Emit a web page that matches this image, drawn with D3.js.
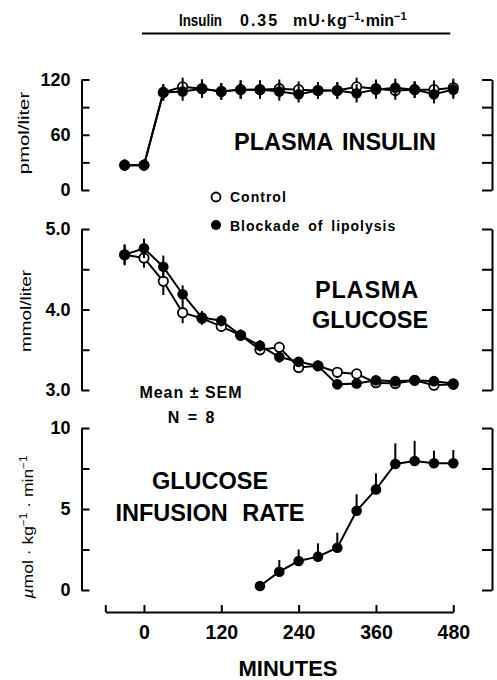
<!DOCTYPE html>
<html>
<head>
<meta charset="utf-8">
<script src="https://cdn.jsdelivr.net/npm/d3@7"></script>
<style>
  body { margin: 0; background: #fff; }
  svg { display: block; }
  text { font-family: "Liberation Sans", Arial, sans-serif; fill: #000; }
</style>
</head>
<body>
<svg id="chart"></svg>
<script>
// sampling times (min)
const minutes = [-30, 0, 30, 60, 90, 120, 150, 180, 210, 240, 270, 300, 330, 360, 390, 420, 450, 480];

// plasma insulin, pmol/liter
const insulinControl  = [27, 27, 106, 112, 110, 107, 109, 109, 110, 109, 108, 108, 112, 110, 108, 109, 109, 111];
const insulinBlockade = [27, 27, 106, 107, 110, 107, 109, 109, 107, 104, 108, 108, 105, 109, 111, 109, 104, 109];
const insulinSemControl  = [6, 6, 9, 10, 10, 9, 10, 10, 10, 9, 9, 9, 10, 10, 10, 9, 10, 10];
const insulinSemBlockade = [6, 6, 9, 10, 10, 9, 10, 10, 10, 9, 9, 9, 10, 10, 10, 9, 10, 10];

// plasma glucose, mmol/liter
const glucoseControl  = [4.68, 4.64, 4.35, 3.96, 3.89, 3.79, 3.68, 3.50, 3.53, 3.28, 3.30, 3.22, 3.20, 3.09, 3.08, 3.12, 3.06, 3.07];
const glucoseBlockade = [4.68, 4.76, 4.53, 4.19, 3.90, 3.86, 3.68, 3.55, 3.41, 3.35, 3.30, 3.07, 3.08, 3.12, 3.11, 3.12, 3.11, 3.08];
const glucoseSemControl  = [0.13, 0.12, 0.17, 0.13, 0.08, 0.07, 0.07, 0.07, 0.07, 0.06, 0.06, 0.06, 0.06, 0.05, 0.05, 0.05, 0.05, 0.04];
const glucoseSemBlockade = [0.12, 0.12, 0.14, 0.11, 0.08, 0.07, 0.07, 0.07, 0.07, 0.06, 0.06, 0.05, 0.06, 0.06, 0.05, 0.05, 0.05, 0.04];

// glucose infusion rate (blockade of lipolysis only)
const girMinutes = [180, 210, 240, 270, 300, 330, 360, 390, 420, 450, 480];
const gir    = [0.25, 1.13, 1.79, 2.06, 2.61, 4.89, 6.21, 7.78, 7.96, 7.82, 7.82];
const girSem = [0, 0.72, 0.71, 0.82, 0.93, 1.02, 0.99, 1.27, 1.25, 0.78, 0.82];

// tick values
const xTicks = [-60, 0, 120, 240, 360, 480];
const insulinTicks = [0, 30, 60, 90, 120];
const insulinLabels = [0, 60, 120];
const glucoseTicks = [3.0, 3.5, 4.0, 4.5, 5.0];
const glucoseLabels = [3.0, 4.0, 5.0];
const girTicks = [0, 2.5, 5, 7.5, 10];
const girLabels = [0, 5, 10];

const width = 497, height = 680;
const leftX = 81.5, rightX = 492;

const svg = d3.select('#chart')
  .attr('width', width)
  .attr('height', height);

const x = d3.scaleLinear().domain([-60, 480]).range([105.3, 453.3]);

function drawFrame(y, ticks, labels, fmt) {
  const left = svg.append('g')
    .attr('transform', `translate(${leftX},0)`)
    .call(d3.axisLeft(y)
      .tickValues(ticks)
      .tickSizeInner(-8)
      .tickSizeOuter(0)
      .tickPadding(11)
      .tickFormat(d => labels.includes(d) ? fmt(d) : ''));
  left.selectAll('path, line').attr('stroke-width', 2);
  left.selectAll('text')
    .attr('font-size', 18)
    .attr('font-weight', 'bold')
    .attr('font-family', '"Liberation Sans", Arial, sans-serif');

  const right = svg.append('g')
    .attr('transform', `translate(${rightX},0)`)
    .call(d3.axisRight(y)
      .tickValues(ticks)
      .tickSizeInner(-10)
      .tickSizeOuter(0)
      .tickFormat(''));
  right.selectAll('path, line').attr('stroke-width', 2);
}

function drawSeries(y, xs, vals, sems, filled, upOnly) {
  const g = svg.append('g');
  const line = d3.line()
    .x((d, i) => x(xs[i]))
    .y(d => y(d));
  g.append('path')
    .datum(vals)
    .attr('d', line)
    .attr('fill', 'none')
    .attr('stroke', '#000')
    .attr('stroke-width', 2);
  g.selectAll('.err')
    .data(vals)
    .enter()
    .append('line')
    .attr('x1', (d, i) => x(xs[i]))
    .attr('x2', (d, i) => x(xs[i]))
    .attr('y1', (d, i) => y(upOnly ? d : d - sems[i]))
    .attr('y2', (d, i) => y(d + sems[i]))
    .attr('stroke', '#000')
    .attr('stroke-width', 2);
  g.selectAll('.pt')
    .data(vals)
    .enter()
    .append('circle')
    .attr('cx', (d, i) => x(xs[i]))
    .attr('cy', d => y(d))
    .attr('r', filled ? 5.3 : 4.7)
    .attr('fill', filled ? '#000' : '#fff')
    .attr('stroke', '#000')
    .attr('stroke-width', filled ? 0 : 1.8);
}

function rotLabel(tx, ty, sx) {
  return svg.append('text')
    .attr('transform', `translate(${tx},${ty}) rotate(-90) scale(${sx},1)`)
    .attr('text-anchor', 'middle')
    .attr('font-size', 14);
}

// ---- insulin panel
const yIns = d3.scaleLinear().domain([0, 120]).range([190, 79.5]);
drawFrame(yIns, insulinTicks, insulinLabels, d3.format('d'));
drawSeries(yIns, minutes, insulinControl, insulinSemControl, false);
drawSeries(yIns, minutes, insulinBlockade, insulinSemBlockade, true);
rotLabel(29, 133, 1.45).text('pmol/liter');
svg.append('text')
  .attr('x', 335).attr('y', 150)
  .attr('text-anchor', 'middle')
  .attr('font-size', 23.5).attr('font-weight', 'bold')
  .attr('word-spacing', 3)
  .text('PLASMA INSULIN');

// ---- glucose panel
const yGlu = d3.scaleLinear().domain([3, 5]).range([390, 229]);
drawFrame(yGlu, glucoseTicks, glucoseLabels, d3.format('.1f'));
drawSeries(yGlu, minutes, glucoseControl, glucoseSemControl, false);
drawSeries(yGlu, minutes, glucoseBlockade, glucoseSemBlockade, true);
rotLabel(31, 311, 1.35).text('mmol/liter');
svg.append('text')
  .attr('x', 367).attr('y', 298)
  .attr('text-anchor', 'middle')
  .attr('font-size', 23.5).attr('font-weight', 'bold')
  .attr('letter-spacing', 0.8)
  .text('PLASMA');
svg.append('text')
  .attr('x', 370).attr('y', 328)
  .attr('text-anchor', 'middle')
  .attr('font-size', 23.5).attr('font-weight', 'bold')
  .text('GLUCOSE');

// ---- glucose infusion rate panel
const yGir = d3.scaleLinear().domain([0, 10]).range([590, 428]);
drawFrame(yGir, girTicks, girLabels, d3.format('d'));
drawSeries(yGir, girMinutes, gir, girSem, true, true);
const girLab = rotLabel(33, 527, 1.17).attr('font-size', 15);
girLab.append('tspan').attr('font-style', 'italic').text('\u00b5');
girLab.append('tspan').text('mol \u00b7 kg');
girLab.append('tspan').attr('dy', -6).attr('font-size', 10).text('\u22121');
girLab.append('tspan').attr('dy', 6).text(' \u00b7 min');
girLab.append('tspan').attr('dy', -6).attr('font-size', 10).text('\u22121');
svg.append('text')
  .attr('x', 210).attr('y', 489)
  .attr('text-anchor', 'middle')
  .attr('font-size', 23.5).attr('font-weight', 'bold')
  .text('GLUCOSE');
svg.append('text')
  .attr('x', 210).attr('y', 521)
  .attr('text-anchor', 'middle')
  .attr('font-size', 23.5).attr('font-weight', 'bold')
  .attr('word-spacing', 8)
  .text('INFUSION RATE');

// ---- time axis
const xg = svg.append('g')
  .attr('transform', 'translate(0,612)')
  .call(d3.axisBottom(x)
    .tickValues(xTicks)
    .tickSizeInner(-7)
    .tickSizeOuter(0)
    .tickPadding(13)
    .tickFormat(d => d < 0 ? '' : d));
xg.selectAll('path, line').attr('stroke-width', 2);
xg.selectAll('text')
  .attr('font-size', 19.5)
  .attr('font-weight', 'bold')
  .attr('font-family', '"Liberation Sans", Arial, sans-serif');
svg.append('text')
  .attr('x', 288).attr('y', 676)
  .attr('text-anchor', 'middle')
  .attr('font-size', 22).attr('font-weight', 'bold')
  .text('MINUTES');

// ---- insulin infusion bar + title
svg.append('line')
  .attr('x1', x(0) - 2).attr('x2', x(480) - 3)
  .attr('y1', 33.5).attr('y2', 33.5)
  .attr('stroke', '#000').attr('stroke-width', 2.2);
const title = svg.append('text')
  .attr('y', 25.5)
  .attr('font-size', 16).attr('font-weight', 'bold');
title.append('tspan').attr('x', 179)
  .attr('textLength', 43).attr('lengthAdjust', 'spacingAndGlyphs')
  .text('Insulin');
title.append('tspan').attr('x', 240).attr('letter-spacing', 2).text('0.35');
title.append('tspan').attr('x', 293).attr('letter-spacing', 1).text('mU\u00b7kg');
title.append('tspan').attr('dy', -6).attr('font-size', 11).text('\u22121');
title.append('tspan').attr('dy', 6).text('\u00b7min');
title.append('tspan').attr('dy', -6).attr('font-size', 11).text('\u22121');

// ---- legend
svg.append('circle')
  .attr('cx', 216).attr('cy', 197).attr('r', 4.5)
  .attr('fill', '#fff').attr('stroke', '#000').attr('stroke-width', 1.8);
svg.append('text')
  .attr('x', 230).attr('y', 202)
  .attr('font-size', 14).attr('font-weight', 'bold')
  .attr('letter-spacing', 1)
  .text('Control');
svg.append('circle')
  .attr('cx', 216).attr('cy', 225).attr('r', 5);
svg.append('text')
  .attr('x', 230).attr('y', 230.5)
  .attr('font-size', 14).attr('font-weight', 'bold')
  .attr('letter-spacing', 1).attr('word-spacing', 3)
  .text('Blockade of lipolysis');

// ---- stats note
svg.append('text')
  .attr('x', 191).attr('y', 398)
  .attr('text-anchor', 'middle')
  .attr('font-size', 16).attr('font-weight', 'bold')
  .attr('letter-spacing', 1)
  .text('Mean \u00b1 SEM');
svg.append('text')
  .attr('x', 191).attr('y', 423)
  .attr('text-anchor', 'middle')
  .attr('font-size', 16).attr('font-weight', 'bold')
  .attr('word-spacing', 4)
  .text('N = 8');
</script>
</body>
</html>
